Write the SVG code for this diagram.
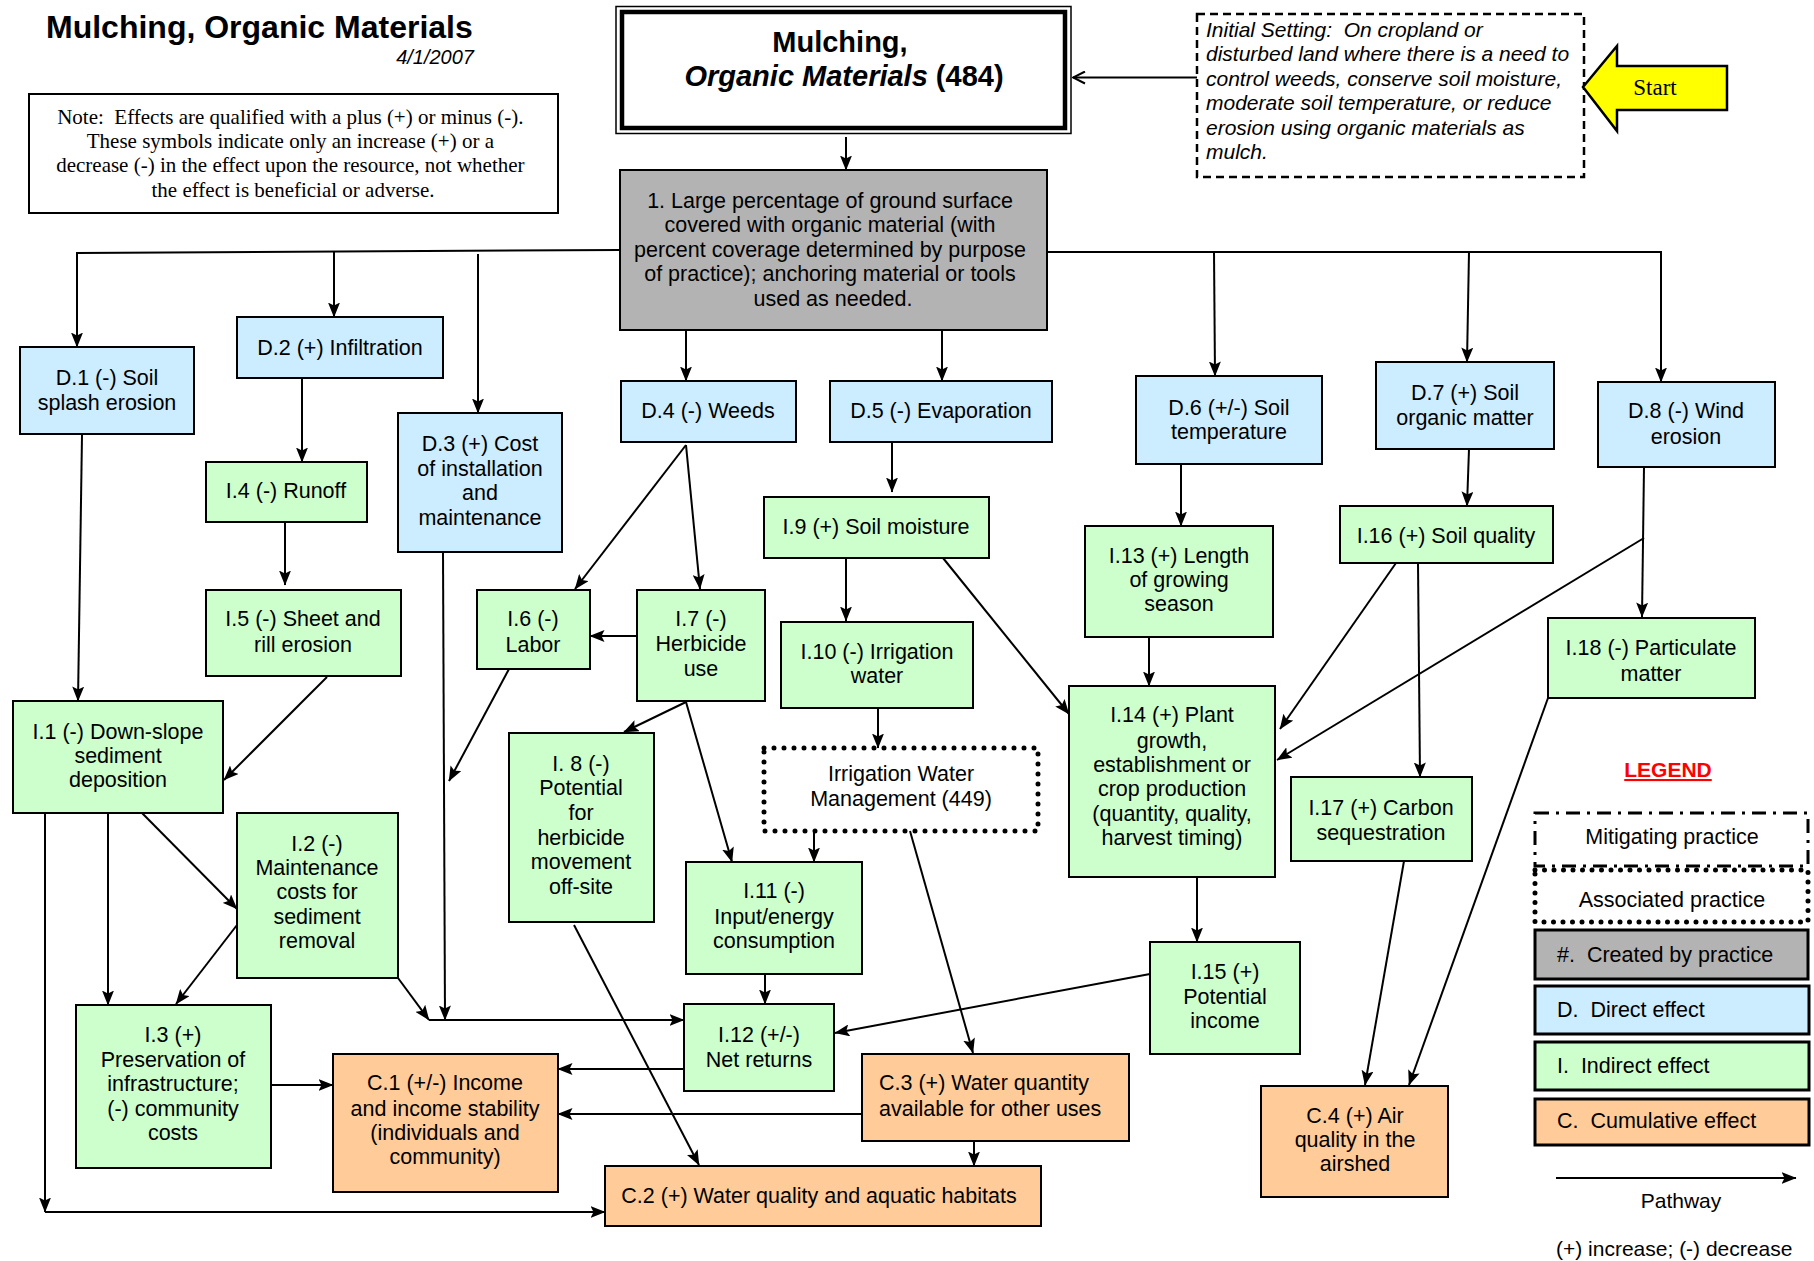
<svg xmlns="http://www.w3.org/2000/svg" width="1814" height="1261" viewBox="0 0 1814 1261">
  <defs>
    <style>
      .t { font-family: "Liberation Sans", Arial, sans-serif; font-size: 21.5px; fill: #000; text-anchor: middle; }
      .tl { font-family: "Liberation Sans", Arial, sans-serif; font-size: 21.5px; fill: #000; text-anchor: start; }
      .serif { font-family: "Liberation Serif", "Times New Roman", serif; fill: #000; }
      .box { stroke: #000; stroke-width: 2; }
      .gray { fill: #b3b3b3; }
      .blue { fill: #ccecff; }
      .green { fill: #ccffcc; }
      .orange { fill: #ffcc99; }
      .lg { stroke: #000; stroke-width: 3; }
      .con path { fill: none; stroke: #000; stroke-width: 2; marker-end: url(#arr); }
    </style>
    <marker id="arr" viewBox="0 0 15 12" refX="14.5" refY="6" markerWidth="15" markerHeight="12" markerUnits="userSpaceOnUse" orient="auto">
      <path d="M0,0 L15,6 L0,12 L3,6 z" fill="#000"/>
    </marker>
    <marker id="open" viewBox="0 0 14 14" refX="13" refY="7" markerWidth="14" markerHeight="14" markerUnits="userSpaceOnUse" orient="auto">
      <path d="M1,1 L13,7 L1,13" fill="none" stroke="#000" stroke-width="2"/>
    </marker>
  </defs>

  <rect width="1814" height="1261" fill="#fff"/>

  <!-- heading -->
  <g id="heading">
    <text x="46" y="38" style="font-family:'Liberation Sans',Arial,sans-serif;font-size:32px;font-weight:bold">Mulching, Organic Materials</text>
    <text x="474" y="64" style="font-family:'Liberation Sans',Arial,sans-serif;font-size:20px;font-style:italic;text-anchor:end">4/1/2007</text>
  </g>

  <!-- note -->
  <g id="note">
    <rect x="29" y="94" width="529" height="119" fill="#fff" stroke="#000" stroke-width="2"/>
    <text class="serif" style="font-size:21px;text-anchor:middle">
      <tspan x="293" y="124">Note:&#160; Effects are qualified with a plus (+) or minus (-).</tspan>
      <tspan x="293" y="148">These symbols indicate only an increase (+) or a</tspan>
      <tspan x="293" y="172">decrease (-) in the effect upon the resource, not whether</tspan>
      <tspan x="293" y="197">the effect is beneficial or adverse.</tspan>
    </text>
  </g>

  <!-- practice -->
  <g id="practice">
    <rect x="616" y="6.5" width="455" height="127" fill="#fff" stroke="#000" stroke-width="1.5"/>
    <rect x="622" y="12" width="443" height="116" fill="none" stroke="#000" stroke-width="4.5"/>
    <text style="font-family:'Liberation Sans',Arial,sans-serif;font-size:29px;font-weight:bold;text-anchor:middle">
      <tspan x="844" y="52">Mulching,</tspan>
      <tspan x="844" y="86"><tspan font-style="italic">Organic Materials</tspan> (484)</tspan>
    </text>
  </g>

  <!-- initial setting -->
  <g id="initial-setting">
    <rect x="1197" y="14" width="387" height="163" fill="#fff" stroke="#000" stroke-width="2.5" stroke-dasharray="8,5"/>
    <text class="tl" style="font-size:21px;font-style:italic">
      <tspan x="1206" y="37">Initial Setting:&#160; On cropland or</tspan>
      <tspan x="1206" y="61">disturbed land where there is a need to</tspan>
      <tspan x="1206" y="86">control weeds, conserve soil moisture,</tspan>
      <tspan x="1206" y="110">moderate soil temperature, or reduce</tspan>
      <tspan x="1206" y="135">erosion using organic materials as</tspan>
      <tspan x="1206" y="159">mulch.</tspan>
    </text>
  </g>

  <!-- start arrow -->
  <g id="start">
    <polygon points="1583,87 1617,46 1617,66 1727,66 1727,110 1617,110 1617,131" fill="#ffff00" stroke="#000" stroke-width="2.5" stroke-linejoin="miter"/>
    <text class="serif" x="1655" y="95" style="font-size:23px;text-anchor:middle">Start</text>
  </g>

  <!-- practice outcome -->
  <g id="n1">
    <rect class="box gray" x="620" y="170" width="427" height="160"/>
    <text class="t">
      <tspan x="833" y="208">1. Large percentage of ground surface</tspan>
      <tspan x="833" y="232">covered with organic material (with</tspan>
      <tspan x="833" y="257">percent coverage determined by purpose</tspan>
      <tspan x="833" y="281">of practice); anchoring material or tools</tspan>
      <tspan x="833" y="306">used as needed.</tspan>
    </text>
  </g>

  <!-- direct effects -->
  <g id="D1">
    <rect class="box blue" x="20" y="347" width="174" height="87"/>
    <text class="t"><tspan x="107" y="385">D.1 (-) Soil</tspan><tspan x="107" y="410">splash erosion</tspan></text>
  </g>
  <g id="D2">
    <rect class="box blue" x="237" y="317" width="206" height="61"/>
    <text class="t"><tspan x="340" y="355">D.2 (+) Infiltration</tspan></text>
  </g>
  <g id="D3">
    <rect class="box blue" x="398" y="413" width="164" height="139"/>
    <text class="t"><tspan x="480" y="451">D.3 (+) Cost</tspan><tspan x="480" y="476">of installation</tspan><tspan x="480" y="500">and</tspan><tspan x="480" y="525">maintenance</tspan></text>
  </g>
  <g id="D4">
    <rect class="box blue" x="621" y="381" width="175" height="61"/>
    <text class="t"><tspan x="708" y="418">D.4 (-) Weeds</tspan></text>
  </g>
  <g id="D5">
    <rect class="box blue" x="830" y="381" width="222" height="61"/>
    <text class="t"><tspan x="941" y="418">D.5 (-) Evaporation</tspan></text>
  </g>
  <g id="D6">
    <rect class="box blue" x="1136" y="376" width="186" height="88"/>
    <text class="t"><tspan x="1229" y="415">D.6 (+/-) Soil</tspan><tspan x="1229" y="439">temperature</tspan></text>
  </g>
  <g id="D7">
    <rect class="box blue" x="1376" y="362" width="178" height="87"/>
    <text class="t"><tspan x="1465" y="400">D.7 (+) Soil</tspan><tspan x="1465" y="425">organic matter</tspan></text>
  </g>
  <g id="D8">
    <rect class="box blue" x="1598" y="382" width="177" height="85"/>
    <text class="t"><tspan x="1686" y="418">D.8 (-) Wind</tspan><tspan x="1686" y="444">erosion</tspan></text>
  </g>

  <!-- indirect effects -->
  <g id="I1">
    <rect class="box green" x="13" y="701" width="210" height="112"/>
    <text class="t"><tspan x="118" y="739">I.1 (-) Down-slope</tspan><tspan x="118" y="763">sediment</tspan><tspan x="118" y="787">deposition</tspan></text>
  </g>
  <g id="I2">
    <rect class="box green" x="237" y="813" width="161" height="165"/>
    <text class="t"><tspan x="317" y="851">I.2 (-)</tspan><tspan x="317" y="875">Maintenance</tspan><tspan x="317" y="899">costs for</tspan><tspan x="317" y="924">sediment</tspan><tspan x="317" y="948">removal</tspan></text>
  </g>
  <g id="I3">
    <rect class="box green" x="76" y="1005" width="195" height="163"/>
    <text class="t"><tspan x="173" y="1042">I.3 (+)</tspan><tspan x="173" y="1067">Preservation of</tspan><tspan x="173" y="1091">infrastructure;</tspan><tspan x="173" y="1116">(-) community</tspan><tspan x="173" y="1140">costs</tspan></text>
  </g>
  <g id="I4">
    <rect class="box green" x="206" y="462" width="161" height="60"/>
    <text class="t"><tspan x="286" y="498">I.4 (-) Runoff</tspan></text>
  </g>
  <g id="I5">
    <rect class="box green" x="206" y="590" width="195" height="86"/>
    <text class="t"><tspan x="303" y="626">I.5 (-) Sheet and</tspan><tspan x="303" y="652">rill erosion</tspan></text>
  </g>
  <g id="I6">
    <rect class="box green" x="477" y="590" width="113" height="79"/>
    <text class="t"><tspan x="533" y="626">I.6 (-)</tspan><tspan x="533" y="652">Labor</tspan></text>
  </g>
  <g id="I7">
    <rect class="box green" x="637" y="590" width="128" height="111"/>
    <text class="t"><tspan x="701" y="626">I.7 (-)</tspan><tspan x="701" y="651">Herbicide</tspan><tspan x="701" y="676">use</tspan></text>
  </g>
  <g id="I8">
    <rect class="box green" x="509" y="733" width="145" height="189"/>
    <text class="t"><tspan x="581" y="771">I. 8 (-)</tspan><tspan x="581" y="795">Potential</tspan><tspan x="581" y="820">for</tspan><tspan x="581" y="845">herbicide</tspan><tspan x="581" y="869">movement</tspan><tspan x="581" y="894">off-site</tspan></text>
  </g>
  <g id="I9">
    <rect class="box green" x="764" y="497" width="225" height="61"/>
    <text class="t"><tspan x="876" y="534">I.9 (+) Soil moisture</tspan></text>
  </g>
  <g id="I10">
    <rect class="box green" x="781" y="622" width="192" height="86"/>
    <text class="t"><tspan x="877" y="659">I.10 (-) Irrigation</tspan><tspan x="877" y="683">water</tspan></text>
  </g>
  <g id="I11">
    <rect class="box green" x="686" y="862" width="176" height="112"/>
    <text class="t"><tspan x="774" y="898">I.11 (-)</tspan><tspan x="774" y="924">Input/energy</tspan><tspan x="774" y="948">consumption</tspan></text>
  </g>
  <g id="I12">
    <rect class="box green" x="684" y="1004" width="150" height="87"/>
    <text class="t"><tspan x="759" y="1042">I.12 (+/-)</tspan><tspan x="759" y="1067">Net returns</tspan></text>
  </g>
  <g id="I13">
    <rect class="box green" x="1085" y="526" width="188" height="111"/>
    <text class="t"><tspan x="1179" y="563">I.13 (+) Length</tspan><tspan x="1179" y="587">of growing</tspan><tspan x="1179" y="611">season</tspan></text>
  </g>
  <g id="I14">
    <rect class="box green" x="1069" y="686" width="206" height="191"/>
    <text class="t"><tspan x="1172" y="722">I.14 (+) Plant</tspan><tspan x="1172" y="748">growth,</tspan><tspan x="1172" y="772">establishment or</tspan><tspan x="1172" y="796">crop production</tspan><tspan x="1172" y="821">(quantity, quality,</tspan><tspan x="1172" y="845">harvest timing)</tspan></text>
  </g>
  <g id="I15">
    <rect class="box green" x="1150" y="942" width="150" height="112"/>
    <text class="t"><tspan x="1225" y="979">I.15 (+)</tspan><tspan x="1225" y="1004">Potential</tspan><tspan x="1225" y="1028">income</tspan></text>
  </g>
  <g id="I16">
    <rect class="box green" x="1340" y="506" width="213" height="57"/>
    <text class="t"><tspan x="1446" y="543">I.16 (+) Soil quality</tspan></text>
  </g>
  <g id="I17">
    <rect class="box green" x="1291" y="777" width="181" height="84"/>
    <text class="t"><tspan x="1381" y="815">I.17 (+) Carbon</tspan><tspan x="1381" y="840">sequestration</tspan></text>
  </g>
  <g id="I18">
    <rect class="box green" x="1548" y="618" width="207" height="80"/>
    <text class="t"><tspan x="1651" y="655">I.18 (-) Particulate</tspan><tspan x="1651" y="681">matter</tspan></text>
  </g>

  <!-- associated practice -->
  <g id="IWM">
    <rect x="764" y="748" width="274" height="83" fill="#fff" stroke="#000" stroke-width="5" stroke-linecap="round" stroke-dasharray="0,10"/>
    <text class="t"><tspan x="901" y="781">Irrigation Water</tspan><tspan x="901" y="806">Management (449)</tspan></text>
  </g>

  <!-- cumulative effects -->
  <g id="C1">
    <rect class="box orange" x="333" y="1054" width="225" height="138"/>
    <text class="t"><tspan x="445" y="1090">C.1 (+/-) Income</tspan><tspan x="445" y="1116">and income stability</tspan><tspan x="445" y="1140">(individuals and</tspan><tspan x="445" y="1164">community)</tspan></text>
  </g>
  <g id="C2">
    <rect class="box orange" x="605" y="1166" width="436" height="60"/>
    <text class="t"><tspan x="819" y="1203">C.2 (+) Water quality and aquatic habitats</tspan></text>
  </g>
  <g id="C3">
    <rect class="box orange" x="862" y="1054" width="267" height="87"/>
    <text class="tl"><tspan x="879" y="1090">C.3 (+) Water quantity</tspan><tspan x="879" y="1116">available for other uses</tspan></text>
  </g>
  <g id="C4">
    <rect class="box orange" x="1261" y="1086" width="187" height="111"/>
    <text class="t"><tspan x="1355" y="1123">C.4 (+) Air</tspan><tspan x="1355" y="1147">quality in the</tspan><tspan x="1355" y="1171">airshed</tspan></text>
  </g>

  <!-- pathways -->
  <g id="connectors" class="con">
    <path d="M1197,77.5 L1073,77.5" style="marker-end:url(#open)"/>
    <path d="M846,137 L846,170"/>
    <path d="M620,250 L77,253 L77,347"/>
    <path d="M334,252 L334,317"/>
    <path d="M478,254 L478,413"/>
    <path d="M686,330 L686,381"/>
    <path d="M942,330 L942,381"/>
    <path d="M1047,252 L1661,252 L1661,382"/>
    <path d="M1214,252 L1215,376"/>
    <path d="M1469,252 L1467,362"/>
    <path d="M302,378 L302,462"/>
    <path d="M285,522 L285,585"/>
    <path d="M82,435 L78,701"/>
    <path d="M327,677 L224,780"/>
    <path d="M443,552 L445,1020"/>
    <path d="M398,978 L429,1020"/>
    <path d="M429,1020 L684,1020"/>
    <path d="M509,669 L449,781"/>
    <path d="M686,445 L575,589"/>
    <path d="M686,445 L700,589"/>
    <path d="M637,636 L590,636"/>
    <path d="M686,702 L624,732"/>
    <path d="M686,702 L732,862"/>
    <path d="M892,442 L892,492"/>
    <path d="M846,558 L846,621"/>
    <path d="M943,558 L1069,714"/>
    <path d="M878,708 L878,748"/>
    <path d="M814,831 L814,862"/>
    <path d="M910,831 L973,1053"/>
    <path d="M765,974 L765,1004"/>
    <path d="M684,1069 L558,1069"/>
    <path d="M862,1114 L558,1114"/>
    <path d="M974,1141 L974,1166"/>
    <path d="M574,925 L699,1165"/>
    <path d="M1150,974 L835,1033"/>
    <path d="M1197,877 L1197,942"/>
    <path d="M1149,637 L1149,686"/>
    <path d="M1181,464 L1181,526"/>
    <path d="M1469,449 L1467,506"/>
    <path d="M1396,563 L1280,729"/>
    <path d="M1418,563 L1420,777"/>
    <path d="M1644,467 L1642,617"/>
    <path d="M1644,538 L1277,760"/>
    <path d="M1548,698 L1409,1085"/>
    <path d="M1404,861 L1365,1085"/>
    <path d="M108,813 L108,1005"/>
    <path d="M142,813 L237,909"/>
    <path d="M237,925 L176,1004"/>
    <path d="M45,813 L45,1212"/>
    <path d="M45,1212 L605,1212"/>
    <path d="M271,1085 L333,1085"/>
  </g>

  <!-- legend -->
  <g id="legend">
    <text x="1668" y="777" style="font-family:'Liberation Sans',Arial,sans-serif;font-size:21px;font-weight:bold;fill:#ff0000;text-anchor:middle;text-decoration:underline">LEGEND</text>
    <rect class="lg" x="1535" y="813" width="273" height="53" fill="#fff" stroke-dasharray="14,7,3,7"/>
    <text class="t" x="1672" y="844">Mitigating practice</text>
    <rect x="1535" y="870" width="273" height="52" fill="#fff" stroke="#000" stroke-width="5" stroke-linecap="round" stroke-dasharray="0,9.5"/>
    <text class="t" x="1672" y="907">Associated practice</text>
    <rect class="lg gray" x="1535" y="930" width="273" height="49"/>
    <text class="tl" x="1557" y="962">#.&#160; Created by practice</text>
    <rect class="lg blue" x="1535" y="986" width="274" height="48"/>
    <text class="tl" x="1557" y="1017">D.&#160; Direct effect</text>
    <rect class="lg green" x="1535" y="1042" width="274" height="48"/>
    <text class="tl" x="1557" y="1073">I.&#160; Indirect effect</text>
    <rect class="lg orange" x="1535" y="1099" width="274" height="46"/>
    <text class="tl" x="1557" y="1128">C.&#160; Cumulative effect</text>
    <path d="M1556,1178 L1796,1178" stroke="#000" stroke-width="2" fill="none" marker-end="url(#arr)"/>
    <text class="t" style="font-size:21px" x="1681" y="1208">Pathway</text>
    <text class="tl" style="font-size:21px" x="1556" y="1256">(+) increase; (-) decrease</text>
  </g>
</svg>
